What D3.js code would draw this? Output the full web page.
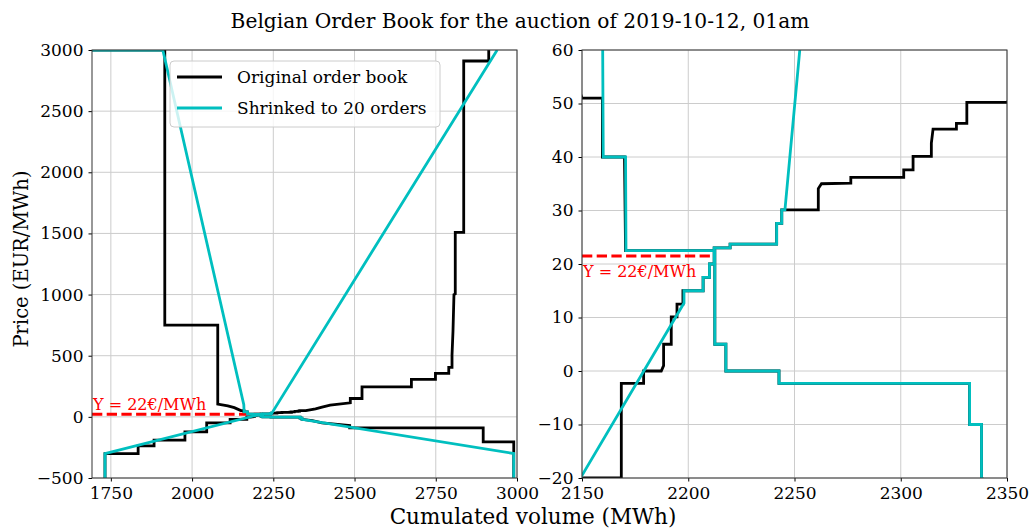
<!DOCTYPE html>
<html>
<head>
<meta charset="utf-8">
<script src="https://cdn.jsdelivr.net/npm/d3@7"></script>
<style>
body { margin: 0; background: #fff; }
text { font-family: "DejaVu Serif", serif; }
</style>
</head>
<body>
<svg width="1029" height="529"></svg>
<script>
// [cumulated volume (MWh), price (EUR/MWh)]
var originalDemand = [
    [1692, 3000], [1916, 3000], [1916, 750], [2079, 750], [2079, 104], [2110, 90], [2130, 75],
    [2150, 51], [2159.6, 51], [2159.6, 40], [2170, 40], [2170.5, 22.5], [2212.5, 22.5], [2212.5, 5],
    [2217.7, 5], [2217.7, 0], [2242.7, 0], [2242.7, -2.3], [2332.4, -2.3], [2332.4, -10],
    [2338, -10], [2338, -20], [2370, -30], [2400, -50], [2440, -60], [2485, -70], [2485, -90],
    [2896, -90], [2896, -205], [2990, -205], [2990, -500]
];
var originalSupply = [
    [1732, -500], [1732, -300], [1834, -300], [1834, -237], [1883, -237], [1883, -191],
    [1978, -191], [1978, -123], [2045, -123], [2045, -49], [2117, -49], [2117, -20],
    [2168.5, -20], [2168.5, -2.3], [2179, -2.3], [2179, 0], [2187.3, 0], [2188.4, 1],
    [2188.4, 5], [2192, 5], [2192, 10.1], [2194.7, 10.1], [2194.7, 12.5], [2197.5, 12.5],
    [2197.5, 15], [2207, 15], [2207, 17.5], [2210, 17.5], [2210, 20], [2212.2, 20],
    [2212.2, 23], [2219.7, 23], [2219.7, 23.7], [2241.6, 23.7], [2241.6, 27.6], [2244, 27.6],
    [2244, 30.1], [2261.2, 30.1], [2261.2, 34.1], [2262.7, 35], [2276.5, 35.1], [2276.5, 36.2],
    [2301.4, 36.2], [2301.4, 37.6], [2305.8, 37.6], [2305.8, 40.1], [2314.4, 40.1],
    [2314.4, 42.6], [2315.2, 45.2], [2326.2, 45.2], [2326.2, 46.3], [2331.1, 46.3],
    [2331.1, 50.2], [2350, 50.2], [2380, 65], [2400, 80], [2425, 96], [2487, 115], [2487, 150],
    [2523, 150], [2523, 246], [2675, 246], [2675, 306], [2749, 306], [2749, 355], [2790, 355],
    [2790, 405], [2800, 405], [2800, 505], [2803, 700], [2806, 1000], [2810, 1005],
    [2810, 1508], [2836, 1508], [2836, 2910], [2913, 2910], [2913, 3000]
];
var shrinkedDemand = [
    [1692, 3000], [1910, 3000], [2159.2, 100], [2160, 40], [2170.5, 40], [2170.7, 22.5],
    [2212.5, 22.5], [2212.5, 5], [2217.7, 5], [2217.7, 0], [2242.7, 0], [2242.7, -2.3],
    [2332.4, -2.3], [2332.4, -10], [2338, -10], [2338, -20], [2990, -300], [2990, -500]
];
var shrinkedSupply = [
    [1732, -500], [1732, -300], [2198, 12.7], [2198, 15], [2207, 15], [2207, 17.5],
    [2210, 17.5], [2210, 20], [2212.2, 20], [2212.2, 23], [2219.7, 23], [2219.7, 23.7],
    [2241.6, 23.7], [2241.6, 27.6], [2244, 27.6], [2244, 30.1], [2245.5, 30.1], [2939, 3000]
];
var clearingPrice = 21.5;
var clearingVolume = 2212;
var clearingLabel = 'Y = 22€/MWh';

var leftXTicks = [1750, 2000, 2250, 2500, 2750, 3000];
var leftYTicks = [-500, 0, 500, 1000, 1500, 2000, 2500, 3000];
var rightXTicks = [2150, 2200, 2250, 2300, 2350];
var rightYTicks = [-20, -10, 0, 10, 20, 30, 40, 50, 60];

var legendLabels = ['Original order book', 'Shrinked to 20 orders'];

var svg = d3.select('svg');
var top_ = 50, bottom = 478;

var panels = [
    { id: 'l', left: 92, right: 517, xd: [1692, 3000], yd: [-500, 3000], xt: leftXTicks, yt: leftYTicks, labelDy: -4, legend: true },
    { id: 'r', left: 582, right: 1007, xd: [2150, 2350], yd: [-20, 60], xt: rightXTicks, yt: rightYTicks, labelDy: 21, legend: false }
];

var fmt = function(d) { return String(d).replace('-', '\u2212'); };

panels.forEach(function(p) {
    var x = d3.scaleLinear().domain(p.xd).range([p.left, p.right]);
    var y = d3.scaleLinear().domain(p.yd).range([bottom, top_]);

    svg.append('clipPath').attr('id', 'clip-' + p.id)
        .append('rect')
        .attr('x', p.left).attr('y', top_)
        .attr('width', p.right - p.left).attr('height', bottom - top_);

    var g = svg.append('g');

    // grid
    g.selectAll('.gx').data(p.xt).enter().append('line')
        .attr('x1', d => x(d)).attr('x2', d => x(d))
        .attr('y1', top_).attr('y2', bottom)
        .attr('stroke', '#cccccc').attr('stroke-width', 1);
    g.selectAll('.gy').data(p.yt).enter().append('line')
        .attr('x1', p.left).attr('x2', p.right)
        .attr('y1', d => y(d)).attr('y2', d => y(d))
        .attr('stroke', '#cccccc').attr('stroke-width', 1);

    var line = d3.line().x(d => x(d[0])).y(d => y(d[1]));
    var plot = g.append('g').attr('clip-path', 'url(#clip-' + p.id + ')');

    var drawLine = function(data, color) {
        plot.append('path')
            .attr('d', line(data))
            .attr('fill', 'none')
            .attr('stroke', color)
            .attr('stroke-width', 2.8)
            .attr('stroke-linejoin', 'miter');
    };

    drawLine(originalDemand, '#000000');
    drawLine(originalSupply, '#000000');

    plot.append('line')
        .attr('x1', x(p.xd[0])).attr('x2', x(clearingVolume))
        .attr('y1', y(clearingPrice)).attr('y2', y(clearingPrice))
        .attr('stroke', '#ff0000').attr('stroke-width', 2.8)
        .attr('stroke-dasharray', '10.3,4.4');

    drawLine(shrinkedDemand, '#00bfbf');
    drawLine(shrinkedSupply, '#00bfbf');

    g.append('text')
        .attr('x', x(p.xd[0]) + 1)
        .attr('y', y(clearingPrice) + p.labelDy)
        .attr('fill', '#ff0000')
        .attr('font-size', 16)
        .text(clearingLabel);

    // axes
    var ax = g.append('g').attr('transform', 'translate(0,' + bottom + ')')
        .call(d3.axisBottom(x).tickValues(p.xt).tickSize(3.5).tickSizeOuter(0).tickPadding(5).tickFormat(fmt));
    var ay = g.append('g').attr('transform', 'translate(' + p.left + ',0)')
        .call(d3.axisLeft(y).tickValues(p.yt).tickSize(3.5).tickSizeOuter(0).tickPadding(5).tickFormat(fmt));
    [ax, ay].forEach(function(a) {
        a.select('.domain').remove();
        a.selectAll('text').attr('font-size', 17).attr('fill', '#000')
            .style('font-family', '"DejaVu Serif", serif');
        a.selectAll('line').attr('stroke', '#000');
    });

    g.append('rect')
        .attr('x', p.left).attr('y', top_)
        .attr('width', p.right - p.left).attr('height', bottom - top_)
        .attr('fill', 'none').attr('stroke', '#333').attr('stroke-width', 1);

    if (p.legend) {
        var lg = g.append('g').attr('transform', 'translate(170,61)');
        lg.append('rect')
            .attr('width', 270).attr('height', 66).attr('rx', 4)
            .attr('fill', '#fff').attr('fill-opacity', 0.8)
            .attr('stroke', '#cccccc');
        legendLabels.forEach(function(t, i) {
            lg.append('line')
                .attr('x1', 7).attr('x2', 52)
                .attr('y1', 16 + i * 31).attr('y2', 16 + i * 31)
                .attr('stroke', i ? '#00bfbf' : '#000').attr('stroke-width', 2.8);
            lg.append('text')
                .attr('x', 67).attr('y', 16 + i * 31)
                .attr('dy', '0.35em')
                .attr('font-size', 17)
                .text(t);
        });
    }
});

svg.append('text')
    .attr('x', 520).attr('y', 28)
    .attr('text-anchor', 'middle')
    .attr('font-size', 20.2)
    .text('Belgian Order Book for the auction of 2019-10-12, 01am');

svg.append('text')
    .attr('x', 533).attr('y', 524)
    .attr('text-anchor', 'middle')
    .attr('font-size', 21.5)
    .text('Cumulated volume (MWh)');

svg.append('text')
    .attr('transform', 'translate(28,259) rotate(-90)')
    .attr('text-anchor', 'middle')
    .attr('font-size', 19.5)
    .text('Price (EUR/MWh)');
</script>
</body>
</html>
